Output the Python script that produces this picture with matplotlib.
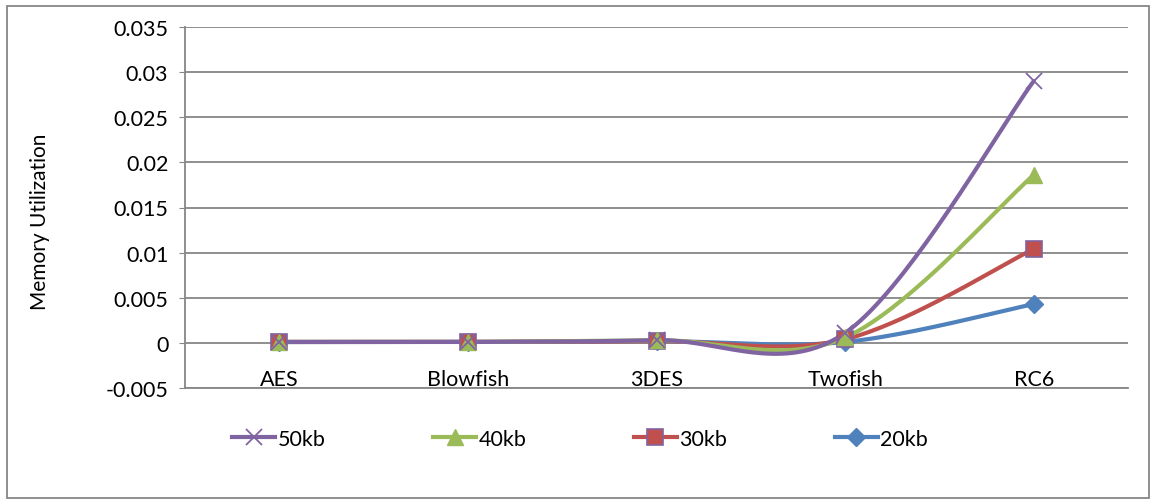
import numpy as np
import matplotlib.pyplot as plt
from matplotlib.patches import Rectangle
from matplotlib.lines import Line2D

plt.rcParams['font.family'] = ['Lato', 'DejaVu Sans']

algorithms = ['AES', 'Blowfish', '3DES', 'Twofish', 'RC6']
mem_20kb = [0.0001, 0.0001, 0.0002, 0.0001, 0.0043]
mem_30kb = [0.0001, 0.0001, 0.0002, 0.0004, 0.0104]
mem_40kb = [0.0001, 0.0001, 0.0003, 0.0006, 0.0186]
mem_50kb = [0.0001, 0.0001, 0.0003, 0.0011, 0.0290]


def smooth(xs, ys, n=40):
    # Catmull-Rom style bezier through the points (like spreadsheet "smoothed line")
    pts = np.column_stack([xs, ys]).astype(float)
    out = [pts[0]]
    for i in range(len(pts) - 1):
        p0 = pts[i - 1] if i > 0 else pts[i]
        p1, p2 = pts[i], pts[i + 1]
        p3 = pts[i + 2] if i + 2 < len(pts) else pts[i + 1]
        c1 = p1 + (p2 - p0) / 6
        c2 = p2 - (p3 - p1) / 6
        t = np.linspace(0, 1, n)[1:, None]
        seg = ((1 - t) ** 3) * p1 + 3 * ((1 - t) ** 2) * t * c1 + 3 * (1 - t) * t ** 2 * c2 + t ** 3 * p2
        out.extend(seg)
    out = np.array(out)
    return out[:, 0], out[:, 1]


fig = plt.figure(figsize=(11.54, 5.02), dpi=100)
ax = fig.add_axes([185 / 1154, 113 / 502, 943 / 1154, 361 / 502])

x = np.arange(len(algorithms))
series = [
    ('20kb', mem_20kb, '#4F81BD', 'D', 9.5, '#4F81BD', 1.0),
    ('30kb', mem_30kb, '#C0504D', 's', 11.5, '#8064A2', 1.2),
    ('40kb', mem_40kb, '#9BBB59', '^', 12, '#9BBB59', 1.0),
    ('50kb', mem_50kb, '#8064A2', 'x', 12, '#8064A2', 1.3),
]

handles = {}
for i, (name, vals, col, mk, ms, ec, mew) in enumerate(series):
    sx, sy = smooth(x, vals)
    ax.plot(sx, sy, color=col, lw=3, solid_capstyle='round', zorder=3 + i)
    ax.plot(x, vals, ls='none', marker=mk, ms=ms, color=col, mec=ec, mew=mew, zorder=8 + i)
    handles[name] = Line2D([], [], color=col, lw=3, marker=mk, ms=ms, mec=ec, mew=mew)

ax.set_xlim(-0.5, 4.5)
ax.set_ylim(-0.005, 0.035)
ax.set_yticks(np.arange(-0.005, 0.0351, 0.005))
ax.set_yticklabels(['-0.005', '0', '0.005', '0.01', '0.015', '0.02', '0.025', '0.03', '0.035'])
ax.set_xticks([])
ax.yaxis.grid(True, color='#868686', lw=1.3)
ax.set_axisbelow(True)
for s in ['top', 'right']:
    ax.spines[s].set_visible(False)
ax.spines['left'].set_color('#868686')
ax.spines['bottom'].set_color('#868686')
ax.spines['left'].set_linewidth(1.3)
ax.spines['bottom'].set_linewidth(1.3)
ax.tick_params(axis='y', length=4, color='#868686', labelsize=15.5, pad=8)

# category labels sit just under the zero line
for xi, name in zip(x, algorithms):
    ax.text(xi, -0.0040, name, ha='center', va='center', fontsize=15.5)

fig.text(40 / 1154, 1 - 222 / 502, 'Memory Utilization', rotation=90,
         ha='center', va='center', fontsize=15)

order = ['50kb', '40kb', '30kb', '20kb']
fig.legend([handles[k] for k in order], order, loc='center', ncol=4,
           bbox_to_anchor=(580 / 1154, 1 - 440 / 502), frameon=False,
           fontsize=15.5, handlelength=2.0, handletextpad=0.1, columnspacing=5.0)

fig.patches.append(Rectangle((7 / 1154, 3 / 502), 1142 / 1154, 492 / 502,
                             transform=fig.transFigure, fill=False,
                             edgecolor='#868686', lw=1.3))

fig.savefig('out.png', dpi=100)
